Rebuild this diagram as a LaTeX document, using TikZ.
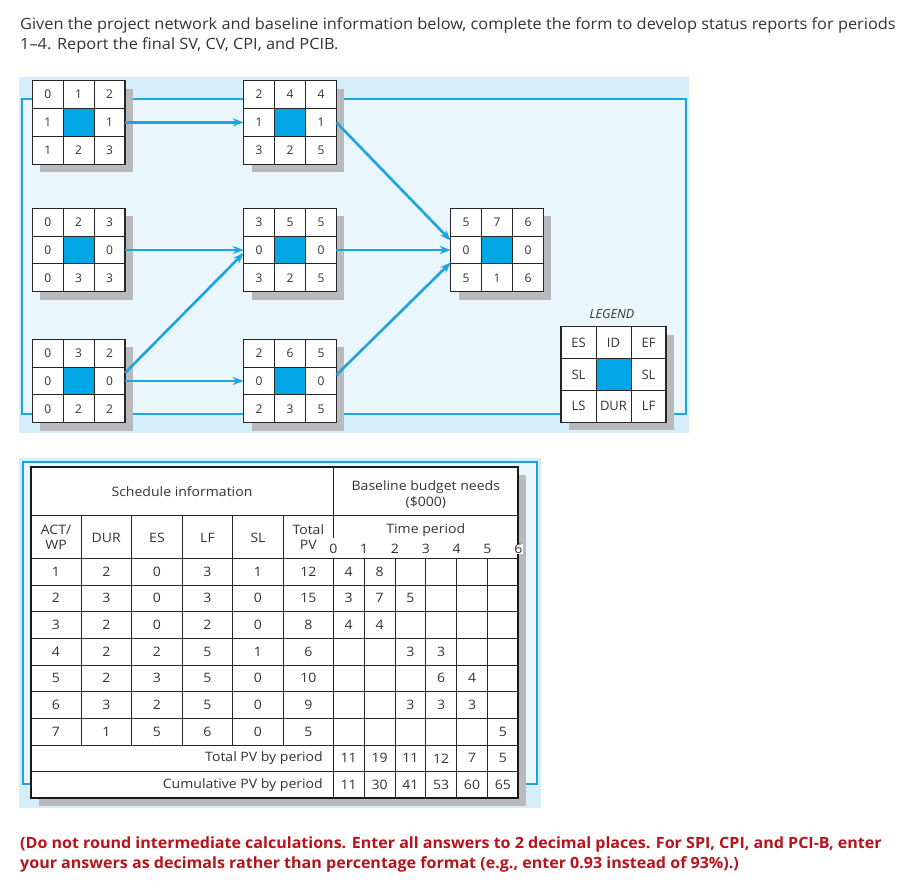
\documentclass[tikz,border=0pt]{standalone}
\usepackage{fontspec}
\setmainfont{Open Sans}
\newfontfamily\titlefont[FakeStretch=1.055]{Open Sans}
\newfontfamily\notefont[FakeStretch=1.035]{Open Sans}
\newfontfamily\tabfont[FakeStretch=1.08]{Open Sans}
\usetikzlibrary{arrows.meta,calc}
\definecolor{bgout}{HTML}{D4EEFA}
\definecolor{bgin}{HTML}{E9F6FD}
\definecolor{lineblue}{HTML}{1DA4DE}
\definecolor{cellblue}{HTML}{00A6E6}
\definecolor{shadowgray}{HTML}{B9BABD}
\definecolor{txtgray}{HTML}{333333}
\definecolor{redtxt}{HTML}{B8121B}
\newcommand{\cellw}{30.9}
\newcommand{\cellh}{27.8}
\newcommand{\cellfs}{12}
\tikzset{
  frameline/.style={draw=lineblue, line width=2pt},
  arr/.style={draw=lineblue, line width=2.6pt, -{Stealth[length=11pt,width=8pt]}},
  gridln/.style={draw=black!85, line width=0.9pt},
  boxborder/.style={draw=black!85, line width=1.1pt},
  ctext/.style={font=\fontsize{\cellfs}{14}\selectfont, text=txtgray, inner sep=0},
  ttext/.style={font=\tabfont\fontsize{13}{15}\selectfont, text=txtgray, inner sep=0},
  tline/.style={draw=black!85, line width=0.9pt},
}
\newcommand{\netbox}[9]{%
  \fill[shadowgray] ($(#1pos)+(8,8)$) rectangle ++({3*\cellw},{3*\cellh});
  \node[fill=white, anchor=north west, inner sep=0, outer sep=0,
        minimum width={3*\cellw*1pt}, minimum height={3*\cellh*1pt}] (#1) at (#1pos) {};
  \fill[cellblue] ($(#1pos)+(\cellw,\cellh)$) rectangle ++(\cellw,\cellh);
  \foreach \k in {1,2}{
    \draw[gridln] ($(#1pos)+({\k*\cellw},0)$) -- ++(0,{3*\cellh});
    \draw[gridln] ($(#1pos)+(0,{\k*\cellh})$) -- ++({3*\cellw},0);
  }
  \draw[boxborder] (#1.north west) rectangle (#1.south east);
  \node[ctext] (#1-a) at ($(#1pos)+({0.5*\cellw},{0.5*\cellh})$) {#2};
  \node[ctext] (#1-b) at ($(#1pos)+({1.5*\cellw},{0.5*\cellh})$) {#3};
  \node[ctext] (#1-c) at ($(#1pos)+({2.5*\cellw},{0.5*\cellh})$) {#4};
  \node[ctext] (#1-d) at ($(#1pos)+({0.5*\cellw},{1.5*\cellh})$) {#5};
  \node[ctext] (#1-e) at ($(#1pos)+({2.5*\cellw},{1.5*\cellh})$) {#6};
  \node[ctext] (#1-f) at ($(#1pos)+({0.5*\cellw},{2.5*\cellh})$) {#7};
  \node[ctext] (#1-g) at ($(#1pos)+({1.5*\cellw},{2.5*\cellh})$) {#8};
  \node[ctext] (#1-h) at ($(#1pos)+({2.5*\cellw},{2.5*\cellh})$) {#9};
}
\begin{document}
\begin{tikzpicture}[x=1pt,y=-1pt]
\useasboundingbox (0,0) rectangle (907,885);
\fill[white] (0,0) rectangle (907,885);

% title
\node[anchor=base west, inner sep=0, font=\titlefont\fontsize{15.5}{18}\selectfont, text=txtgray] (t1) at (20,30)
  {Given the project network and baseline information below, complete the form to develop status reports for periods};
\node[anchor=base west, inner sep=0, font=\titlefont\fontsize{15.5}{18}\selectfont, text=txtgray] (t2) at (20,50)
  {1–4. Report the final SV, CV, CPI, and PCIB.};

% network panel
\fill[bgout] (19,77) rectangle (689,433);
\coordinate (fTL) at (22.3,99);
\coordinate (fBR) at (686,414);
\fill[bgin] (fTL) rectangle (fBR);
\draw[frameline] (fTL) rectangle (fBR);

\coordinate (n1pos) at (32.3,80.7);
\coordinate (n2pos) at (243.7,80.7);
\coordinate (n4pos) at (32.3,208.3);
\coordinate (n5pos) at (243.7,208.3);
\coordinate (n7pos) at (450.7,208.3);
\coordinate (n3pos) at (32.3,339.3);
\coordinate (n6pos) at (243.7,339.3);
\coordinate (legpos) at (561,326.7);

\netbox{n1}{0}{1}{2}{1}{1}{1}{2}{3}
\netbox{n2}{2}{4}{4}{1}{1}{3}{2}{5}
\netbox{n4}{0}{2}{3}{0}{0}{0}{3}{3}
\netbox{n5}{3}{5}{5}{0}{0}{3}{2}{5}
\netbox{n7}{5}{7}{6}{0}{0}{5}{1}{6}
\netbox{n3}{0}{3}{2}{0}{0}{0}{2}{2}
\netbox{n6}{2}{6}{5}{0}{0}{2}{3}{5}
\renewcommand{\cellw}{35}
\renewcommand{\cellh}{31.8}
\renewcommand{\cellfs}{13}
\netbox{leg}{ES}{ID}{EF}{SL}{SL}{LS}{DUR}{LF}
\node[ctext, font=\itshape\fontsize{12.5}{14}\selectfont] (legtitle) at (612,314) {LEGEND};

\draw[arr] (n1.east) -- (n2.west);
\draw[arr] (n4.east) -- (n5.west);
\draw[arr] (n3.east) -- (n6.west);
\draw[arr] ([yshift=8pt]n3.east) -- ([yshift=-3pt]n5.west);
\draw[arr] (n2.east) -- ([yshift=9.5pt]n7.west);
\draw[arr] (n5.east) -- (n7.west);
\draw[arr] ([yshift=6pt]n6.east) -- ([yshift=-12.5pt]n7.west);

% table panel
\fill[bgout] (19,458) rectangle (541,808);
\coordinate (gTL) at (23.3,461.7);
\coordinate (gBR) at (537.3,784);
\fill[bgin] (gTL) rectangle (gBR);
\draw[frameline] (gTL) rectangle (gBR);
\fill[shadowgray] (38.7,474.7) rectangle (526.3,806.3);
\node[fill=white, anchor=north west, inner sep=0, outer sep=0,
      minimum width=487.6pt, minimum height=331.6pt] (tab) at (30.7,466.7) {};
\foreach \y in {515.7,558.3,585,611.7,638.3,665,691.7,718.3,745,771.7}
  \draw[tline] (30.7,\y) -- (518.3,\y);
\draw[tline] (333.3,466.7) -- (333.3,538);
\draw[tline] (333.3,558.3) -- (333.3,798.3);
\foreach \x in {81,131.7,182.3,232.7,283.3}
  \draw[tline] (\x,515.7) -- (\x,745);
\foreach \x in {364.1,395,425.8,456.6,487.5}
  \draw[tline] (\x,558.3) -- (\x,798.3);
\draw[draw=black!90, line width=1.8pt] (tab.north west) rectangle (tab.south east);

\node[ttext] (hsched) at (182,492) {Schedule information};
\node[ttext, align=center, font=\tabfont\fontsize{13}{16}\selectfont] (hbase) at (425.8,495) {Baseline budget needs\\(\$000)};
\node[ttext, align=center, font=\tabfont\fontsize{13}{15}\selectfont] (hact) at (56,537) {ACT/\\WP};
\node[ttext] (hdur) at (106.3,537.5) {DUR};
\node[ttext] (hes) at (157,537.5) {ES};
\node[ttext] (hlf) at (207.5,537.5) {LF};
\node[ttext] (hsl) at (258,537.5) {SL};
\node[ttext, align=center, font=\tabfont\fontsize{13}{15}\selectfont] (hpv) at (308.3,537) {Total\\PV};
\node[ttext] (htime) at (425.8,530) {Time period};
\foreach \k in {0,...,6}
  \node[ttext, fill=white, inner sep=0.6pt] (tp\k) at ({333.3+30.83*\k},549) {\k};

\foreach \a/\b/\c/\d/\e/\f [count=\i from 0] in
  {1/2/0/3/1/12, 2/3/0/3/0/15, 3/2/0/2/0/8, 4/2/2/5/1/6, 5/2/3/5/0/10, 6/3/2/5/0/9, 7/1/5/6/0/5}{
  \pgfmathsetmacro\yy{571.6+26.67*\i}
  \node[ttext] (s\i a) at (55.85,\yy) {\a};
  \node[ttext] (s\i b) at (106.35,\yy) {\b};
  \node[ttext] (s\i c) at (157,\yy) {\c};
  \node[ttext] (s\i d) at (207.5,\yy) {\d};
  \node[ttext] (s\i e) at (258,\yy) {\e};
  \node[ttext] (s\i f) at (308.3,\yy) {\f};
}
\foreach \r/\c/\v in {0/0/4, 0/1/8, 1/0/3, 1/1/7, 1/2/5, 2/0/4, 2/1/4, 3/2/3, 3/3/3,
  4/3/6, 4/4/4, 5/2/3, 5/3/3, 5/4/3, 6/5/5,
  7/0/11, 7/1/19, 7/2/11, 7/3/12, 7/4/7, 7/5/5,
  8/0/11, 8/1/30, 8/2/41, 8/3/53, 8/4/60, 8/5/65}{
  \node[ttext] (p\r-\c) at ({348.7+30.83*\c},{571.6+26.67*\r}) {\v};
}
\node[ttext, anchor=east] (totpv) at (323,758.3) {Total PV by period};
\node[ttext, anchor=east] (cumpv) at (323,785) {Cumulative PV by period};

% note
\node[anchor=base west, inner sep=0, font=\notefont\bfseries\fontsize{15.5}{18}\selectfont, text=redtxt] (r1) at (20,848)
  {(Do not round intermediate calculations. Enter all answers to 2 decimal places. For SPI, CPI, and PCI-B, enter};
\node[anchor=base west, inner sep=0, font=\notefont\bfseries\fontsize{15.5}{18}\selectfont, text=redtxt] (r2) at (20,868)
  {your answers as decimals rather than percentage format (e.g., enter 0.93 instead of 93\%).)};
\end{tikzpicture}
\end{document}
